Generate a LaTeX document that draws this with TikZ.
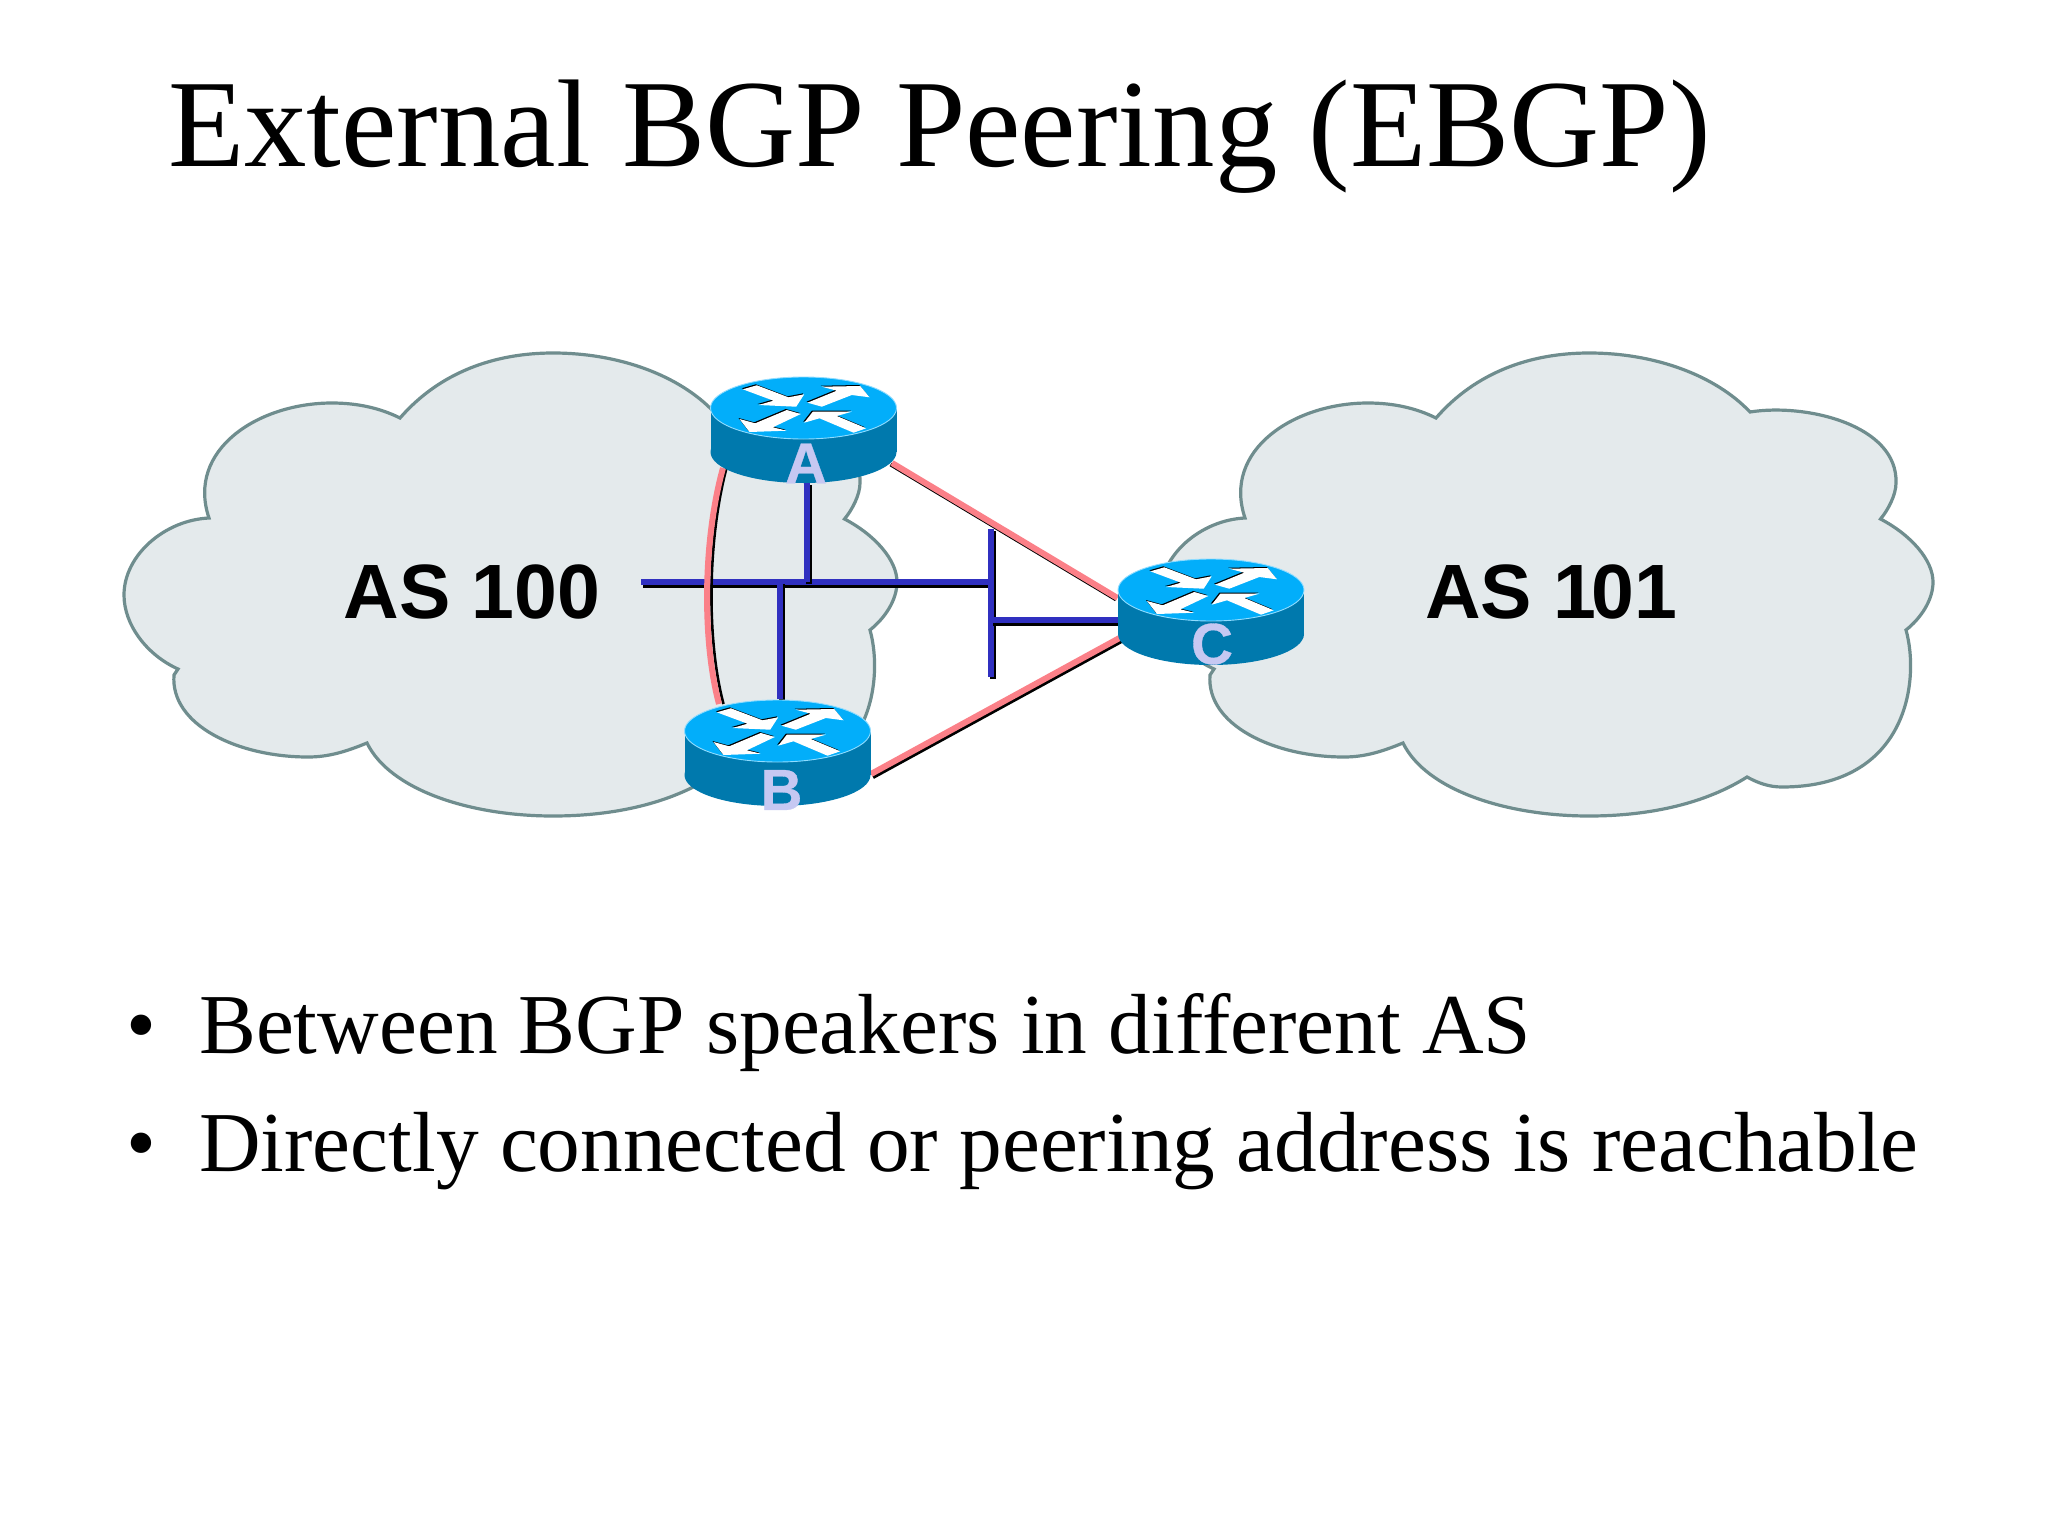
\documentclass[tikz,border=0pt]{standalone}
\usepackage{fontspec}
\setmainfont{Liberation Serif}
\newfontfamily\labelsans{Liberation Sans}[Kerning=On]
\newfontfamily\lettersans{Liberation Sans}[BoldFeatures={FakeBold=0.6}]
\usetikzlibrary{calc}
\definecolor{cloudfill}{HTML}{E4EAEC}
\definecolor{cloudedge}{HTML}{6F8D8E}
\definecolor{rtop}{HTML}{02AEFA}
\definecolor{rside}{HTML}{0079AD}
\definecolor{rrim}{HTML}{8FDCFF}
\definecolor{peer}{HTML}{FB8088}
\definecolor{bus}{HTML}{3030C0}
\definecolor{rlabel}{HTML}{C6C8F2}
\tikzset{
  cloudshape/.style={fill=cloudfill,draw=cloudedge,line width=3.2pt,line join=miter},
  routerbox/.style={minimum width=187pt,minimum height=106pt,inner sep=0pt,outer sep=0pt},
  title/.style={anchor=base west,inner sep=0pt,font=\fontsize{124.8}{130}\selectfont},
  bullettext/.style={anchor=base west,inner sep=0pt,font=\fontsize{85.3}{90}\selectfont},
  aslabel/.style={anchor=base west,inner sep=0pt,font=\labelsans\bfseries\fontsize{77}{80}\selectfont},
  rletter/.style={inner sep=0pt,text=rlabel,font=\lettersans\bfseries\fontsize{58}{60}\selectfont},
  busline/.style={draw=bus,line width=6.2pt,preaction={draw=black,line width=6.2pt,transform canvas={shift={(2pt,-2.4pt)}}}},
  peerline/.style={draw=peer,line width=6pt},
}
\newcommand\rarrow[1]{\fill[black,xshift=-1pt,yshift=1pt] #1; \fill[white] #1;}
\newcommand\drawcloud{%
  \path[cloudshape] (400,418) .. controls (440,372) and (495,353) .. (553,353)
    .. controls (620,353) and (680,376) .. (714,412)
    .. controls (770,403) and (862,425) .. (860,483)
    .. controls (860,495) and (852,510) .. (844.5,519)
    .. controls (875,535) and (897,560) .. (897,582)
    .. controls (897,600) and (885,618) .. (870,630)
    .. controls (884,680) and (872,787) .. (746,787)
    .. controls (733,787) and (722,783) .. (711,777)
    .. controls (670,803) and (615,816) .. (553,816)
    .. controls (470,816) and (390,790) .. (367,743)
    .. controls (345,752) and (328,757) .. (308,757)
    .. controls (238,757) and (170,725) .. (174,675) -- (178,669)
    .. controls (147,655) and (124,625) .. (124,595)
    .. controls (124,555) and (165,520) .. (209,518)
    .. controls (186,450) and (258,403) .. (332,403)
    .. controls (357,403) and (380,408) .. cycle;}
\newcommand\drawrouter[1]{%
  \begin{scope}[shift={(#1)}]
    \fill[rside] (-93,0) rectangle (93,44);
    \fill[rside] (0,44) ellipse [x radius=93pt,y radius=31pt];
    \fill[rtop] (0,0) ellipse [x radius=93pt,y radius=31pt];
    \draw[rrim,line width=0.9pt] (0,0) ellipse [x radius=93pt,y radius=31pt];
    \rarrow{(-60.7,-18.7)--(-46.7,-22.7)--(-15,-10.7)--(0.7,-13.7)--(-7.3,-1.3)--(-45,-3)--(-30,-7.3)--cycle}
    \rarrow{(4,-5.3)--(33.3,-17.3)--(18.3,-21.3)--(56.7,-22)--(66,-10.7)--(48.3,-13)--(18.3,-1.3)--cycle}
    \rarrow{(-16.7,2)--(-48.3,15.3)--(-64,11)--(-54,24)--(-16.7,22.7)--(-30.7,19.3)--(-2.7,6)--cycle}
    \rarrow{(0.7,14.7)--(9.3,3.7)--(48.3,3.7)--(33.3,8)--(62.7,20.3)--(50,24.7)--(16,10.3)--cycle}
  \end{scope}}
\begin{document}
\begin{tikzpicture}[x=1pt,y=-1pt]
\useasboundingbox (0,0) rectangle (2048,1536);
\fill[white] (0,0) rectangle (2048,1536);

% clouds
\begin{scope}\drawcloud\end{scope}
\begin{scope}[xshift=1036pt]\drawcloud\end{scope}

% router anchors
\node[routerbox] (ra) at (803.5,430) {};
\node[routerbox] (rb) at (777.5,752) {};
\node[routerbox] (rc) at (1211,611) {};

% bus coordinates
\coordinate (busL) at (641,582);
\coordinate (busB) at (780,582);
\coordinate (busA) at (807,582);
\coordinate (busR) at (990,582);
\coordinate (barT) at (991,529);
\coordinate (barC) at (991,620);
\coordinate (barB) at (991,677);

% text in clouds
\node[aslabel] (as100) at (343.5,618.5) {AS 100};
\node[aslabel] (as101) at (1425,618.5) {AS 1\kern-5pt 01};

% bus
\draw[busline] (busL) -- (busR);
\draw[busline] (busA) -- (busA |- ra.south);
\draw[busline] (busB) -- (busB |- rb.north);
\draw[busline] (barT) -- (barB);
\draw[busline] (barC) -- (barC -| rc.west);

% peerings
\draw[draw=black,line width=2.6pt] ([shift={(16.5pt,15pt)}]ra.south west)
   .. controls (707.5,540) and (706.5,640) .. ([shift={(39.5pt,-5pt)}]rb.north west);
\draw[peerline] ([shift={(13pt,15pt)}]ra.south west)
   .. controls (703,540) and (702,640) .. ([shift={(35pt,-5pt)}]rb.north west);
\draw[peerline,preaction={draw=black,line width=4pt,transform canvas={shift={(-1.4pt,-1.4pt)}}}]
   ([shift={(-5pt,20pt)}]ra.south east) -- ([yshift=13pt]rc.west);
\draw[peerline,preaction={draw=black,line width=6pt,transform canvas={shift={(1.5pt,-2.2pt)}}}]
   ([yshift=31pt]rb.south east) -- ([shift={(2pt,-27pt)}]rc.west);

% routers
\drawrouter{803.5,408}
\drawrouter{777.5,731}
\drawrouter{1211,590}

\node[rletter] (la) at (806,463.5) {A};
\node[rletter] (lb) at (781.5,790) {B};
\node[rletter] (lc) at (1212,644) {C};

% texts
\node[title] (ttl) at (168,166) {External BGP Peering (EBGP)};
\node[bullettext] (b1) at (126,1053) {•};
\node[bullettext] (t1) at (199,1053) {Between BGP speakers in different AS};
\node[bullettext] (b2) at (126,1171.5) {•};
\node[bullettext] (t2) at (199,1171.5) {Directly connected or peering address is reachable};
\end{tikzpicture}
\end{document}
